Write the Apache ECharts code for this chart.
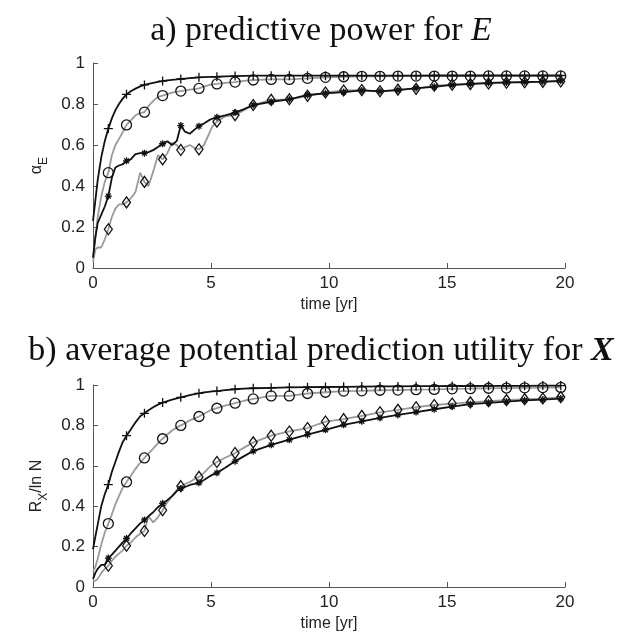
<!DOCTYPE html>
<html>
<head>
<meta charset="utf-8">
<script src="https://cdn.jsdelivr.net/npm/echarts@6/dist/echarts.min.js"></script>
<style>
    html, body { margin: 0; padding: 0; background: #fff; }
    #chart { width: 642px; height: 633px; }
</style>
</head>
<body>
<div id="chart"></div>
<script>
// time grid [yr] (fine at the start, then one point per marker)
const time = [0, 0.1, 0.2, 0.35, 0.5, 0.65, 0.8, 0.95, 1.1, 1.25, 1.42, 1.6, 1.8, 2.0, 2.18,
    2.35, 2.55, 2.75, 2.95, 3.15, 3.35, 3.55, 3.72, 3.9, 4.1, 4.3, 4.49, 4.7, 4.9, 5.05, 5.25,
    5.6, 6.02, 6.4, 6.79, 7.55, 8.32, 9.09, 9.85, 10.62, 11.39, 12.16, 12.92, 13.69, 14.46,
    15.22, 15.99, 16.76, 17.52, 18.29, 19.06, 19.82];

// times where a marker is drawn
const markerTimes = [0.65, 1.42, 2.18, 2.95, 3.72, 4.49, 5.25, 6.02, 6.79, 7.55, 8.32, 9.09,
    9.85, 10.62, 11.39, 12.16, 12.92, 13.69, 14.46, 15.22, 15.99, 16.76, 17.52, 18.29, 19.06, 19.82];

// a) predictive power for E
const aPlus = [0.23, 0.33, 0.43, 0.54, 0.62, 0.68, 0.73, 0.77, 0.8, 0.825, 0.847, 0.862, 0.875, 0.886, 0.893,
    0.898, 0.903, 0.908, 0.912, 0.915, 0.918, 0.92, 0.922, 0.924, 0.926, 0.928, 0.93, 0.931, 0.932, 0.932, 0.933,
    0.935, 0.936, 0.937, 0.938, 0.938, 0.938, 0.938, 0.938, 0.938, 0.938, 0.938, 0.938, 0.938, 0.939,
    0.939, 0.939, 0.939, 0.939, 0.939, 0.939, 0.939];
const aCircle = [0.05, 0.15, 0.25, 0.35, 0.42, 0.465, 0.55, 0.6, 0.63, 0.66, 0.698, 0.72, 0.745, 0.755, 0.76,
    0.79, 0.815, 0.835, 0.841, 0.848, 0.855, 0.86, 0.863, 0.866, 0.87, 0.873, 0.876, 0.885, 0.892, 0.896, 0.898,
    0.903, 0.907, 0.913, 0.917, 0.92, 0.92, 0.925, 0.93, 0.933, 0.935, 0.935, 0.936, 0.936, 0.936,
    0.936, 0.936, 0.937, 0.937, 0.937, 0.937, 0.937];
const aStar = [0.05, 0.15, 0.22, 0.26, 0.3, 0.351, 0.44, 0.49, 0.5, 0.505, 0.523, 0.53, 0.555, 0.56, 0.56,
    0.565, 0.575, 0.59, 0.606, 0.618, 0.6, 0.62, 0.695, 0.665, 0.655, 0.675, 0.692, 0.705, 0.72, 0.728, 0.735,
    0.745, 0.758, 0.775, 0.795, 0.811, 0.823, 0.844, 0.852, 0.858, 0.866, 0.862, 0.868, 0.877, 0.884,
    0.893, 0.898, 0.903, 0.905, 0.907, 0.909, 0.913];
const aDiamond = [0.03, 0.09, 0.1, 0.1, 0.14, 0.189, 0.25, 0.29, 0.31, 0.31, 0.32, 0.34, 0.37, 0.465, 0.42,
    0.4, 0.47, 0.55, 0.53, 0.56, 0.61, 0.6, 0.576, 0.59, 0.6, 0.585, 0.579, 0.6, 0.65, 0.69, 0.714,
    0.74, 0.746, 0.77, 0.795, 0.82, 0.823, 0.84, 0.856, 0.866, 0.868, 0.862, 0.87, 0.874, 0.89,
    0.894, 0.897, 0.9, 0.904, 0.906, 0.908, 0.91];

// b) average potential prediction utility for X
const bPlus = [0.187, 0.25, 0.31, 0.4, 0.46, 0.507, 0.57, 0.62, 0.67, 0.715, 0.749, 0.78, 0.815, 0.845, 0.86,
    0.875, 0.89, 0.903, 0.913, 0.92, 0.928, 0.934, 0.939, 0.944, 0.95, 0.955, 0.959, 0.963, 0.966, 0.968, 0.97,
    0.975, 0.979, 0.982, 0.984, 0.986, 0.988, 0.989, 0.99, 0.991, 0.992, 0.993, 0.993, 0.994, 0.994,
    0.995, 0.995, 0.996, 0.996, 0.996, 0.997, 0.997];
const bCircle = [0.075, 0.1, 0.14, 0.21, 0.27, 0.314, 0.36, 0.41, 0.45, 0.49, 0.52, 0.55, 0.585, 0.615, 0.639,
    0.66, 0.685, 0.712, 0.734, 0.755, 0.775, 0.79, 0.8, 0.81, 0.825, 0.835, 0.844, 0.858, 0.87, 0.878, 0.885,
    0.898, 0.91, 0.922, 0.931, 0.946, 0.946, 0.958, 0.964, 0.97, 0.971, 0.974, 0.975, 0.977, 0.978,
    0.981, 0.982, 0.984, 0.985, 0.986, 0.987, 0.988];
const bStar = [0.04, 0.07, 0.09, 0.11, 0.11, 0.143, 0.16, 0.18, 0.2, 0.22, 0.24, 0.265, 0.29, 0.315, 0.332,
    0.35, 0.37, 0.395, 0.414, 0.43, 0.45, 0.475, 0.488, 0.495, 0.505, 0.51, 0.516, 0.53, 0.545, 0.555, 0.565,
    0.59, 0.622, 0.648, 0.673, 0.704, 0.729, 0.754, 0.778, 0.803, 0.82, 0.837, 0.852, 0.866, 0.88,
    0.893, 0.905, 0.912, 0.918, 0.924, 0.928, 0.933];
const bDiamond = [0.03, 0.03, 0.04, 0.07, 0.09, 0.105, 0.13, 0.15, 0.165, 0.18, 0.204, 0.22, 0.245, 0.265, 0.277,
    0.35, 0.32, 0.345, 0.38, 0.42, 0.45, 0.48, 0.499, 0.51, 0.52, 0.535, 0.545, 0.565, 0.59, 0.605, 0.619,
    0.64, 0.663, 0.69, 0.716, 0.749, 0.77, 0.787, 0.819, 0.831, 0.847, 0.865, 0.877, 0.89, 0.901,
    0.908, 0.914, 0.92, 0.925, 0.93, 0.933, 0.94];

const BLACK = '#111111';
const GRAY = '#9a9a9a';
const PLUS = 'path://M0,5L10,5M5,0L5,10';
const STAR = 'path://M5,0L5,10M0,5L10,5M1.5,1.5L8.5,8.5M1.5,8.5L8.5,1.5';

const markerSet = new Set(markerTimes);

function zip(values) {
    return time.map((t, i) => [t, values[i]]);
}

// one line series, markers only at markerTimes
function makeSeries(idx, values, lineColor, symbol, size, fill, z) {
    return {
        type: 'line',
        xAxisIndex: idx,
        yAxisIndex: idx,
        data: zip(values),
        showSymbol: true,
        showAllSymbol: true,
        symbol: function (value) {
            return markerSet.has(value[0]) ? symbol : 'none';
        },
        symbolSize: size,
        lineStyle: { color: lineColor, width: 1.8 },
        itemStyle: { color: fill, borderColor: BLACK, borderWidth: 1.3 },
        emphasis: { disabled: true },
        silent: true,
        z: z
    };
}

function xAxisOf(idx) {
    return {
        type: 'value',
        gridIndex: idx,
        min: 0,
        max: 20,
        interval: 5,
        name: 'time [yr]',
        nameLocation: 'middle',
        nameGap: 29,
        nameTextStyle: { fontFamily: 'Liberation Sans', fontSize: 16, color: '#222' },
        axisLine: { lineStyle: { color: '#555', width: 1 } },
        axisTick: { inside: true, length: 5, lineStyle: { color: '#555' } },
        axisLabel: { fontFamily: 'Liberation Sans', fontSize: 17, color: '#222', margin: 7 },
        splitLine: { show: false }
    };
}

function yAxisOf(idx, name) {
    return {
        type: 'value',
        gridIndex: idx,
        min: 0,
        max: 1,
        interval: 0.2,
        name: name,
        nameLocation: 'middle',
        nameRotate: 90,
        nameGap: 34,
        nameTextStyle: {
            fontFamily: 'Liberation Sans', fontSize: 16, color: '#222',
            rich: {
                m: { fontFamily: 'Liberation Sans', fontSize: 16, color: '#222', lineHeight: 16, verticalAlign: 'top' },
                s: { fontFamily: 'Liberation Sans', fontSize: 12, color: '#222', lineHeight: 30, verticalAlign: 'middle' }
            }
        },
        axisLine: { show: true, lineStyle: { color: '#555', width: 1 } },
        axisTick: { show: true, inside: true, length: 5, lineStyle: { color: '#555' } },
        axisLabel: { fontFamily: 'Liberation Sans', fontSize: 17, color: '#222', margin: 8 },
        splitLine: { show: false }
    };
}

const chart = echarts.init(document.getElementById('chart'), null, { renderer: 'canvas' });

const titleRich = {
    n: { fontFamily: 'Liberation Serif', fontSize: 34, fontWeight: 'normal', color: '#111' },
    i: { fontFamily: 'Liberation Serif', fontSize: 34, fontWeight: 'normal', fontStyle: 'italic', color: '#111' },
    b: { fontFamily: 'Liberation Serif', fontSize: 34, fontWeight: 'bold', fontStyle: 'italic', color: '#111' }
};

const option = {
    animation: false,
    backgroundColor: '#fff',
    title: [
        {
            text: '{n|a) predictive power for }{i|E}',
            left: 'center',
            top: 9,
            textStyle: { fontWeight: 'normal', rich: titleRich }
        },
        {
            text: '{n|b) average potential prediction utility for }{b|X}',
            left: 'center',
            top: 329,
            textStyle: { fontWeight: 'normal', rich: titleRich }
        }
    ],
    grid: [
        { left: 93, top: 63, width: 472, height: 205 },
        { left: 93, top: 385, width: 472, height: 203 }
    ],
    xAxis: [xAxisOf(0), xAxisOf(1)],
    yAxis: [
        yAxisOf(0, '{m|α}{s|E}'),
        yAxisOf(1, '{m|R}{s|X}{m|/ln N}')
    ],
    series: [
        makeSeries(0, aDiamond, GRAY, 'diamond', [8, 11], 'rgba(255,255,255,0)', 2),
        makeSeries(0, aCircle, GRAY, 'circle', 10, 'rgba(255,255,255,0)', 2),
        makeSeries(0, aStar, BLACK, STAR, 7, BLACK, 3),
        makeSeries(0, aPlus, BLACK, PLUS, 9, 'none', 3),
        makeSeries(1, bDiamond, GRAY, 'diamond', [8, 11], 'rgba(255,255,255,0)', 2),
        makeSeries(1, bCircle, GRAY, 'circle', 10, 'rgba(255,255,255,0)', 2),
        makeSeries(1, bStar, BLACK, STAR, 7, BLACK, 3),
        makeSeries(1, bPlus, BLACK, PLUS, 9, 'none', 3)
    ]
};

chart.setOption(option);
</script>
</body>
</html>
